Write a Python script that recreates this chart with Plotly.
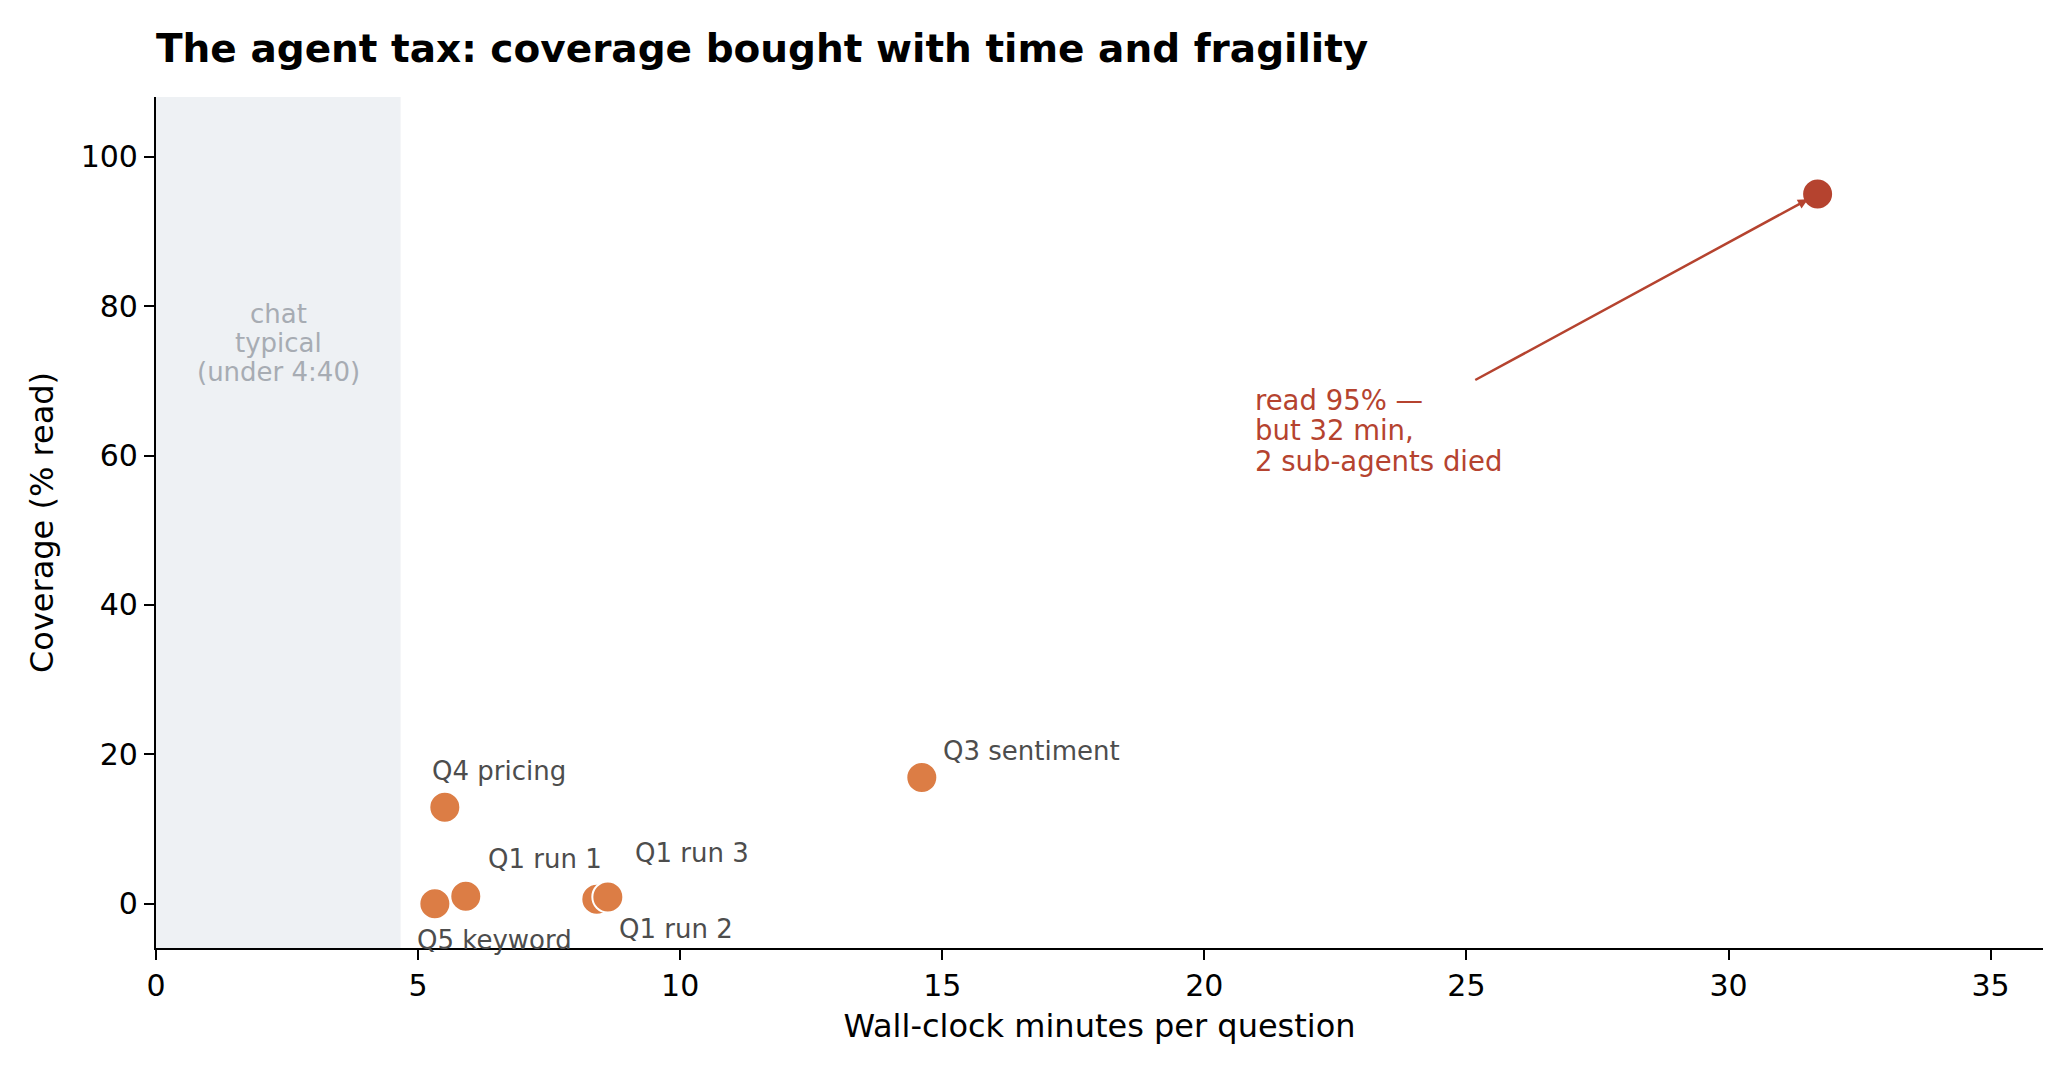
import plotly.graph_objects as go

# runs: wall-clock minutes vs coverage (% read)
labels = ["Q5 keyword", "Q1 run 1", "Q4 pricing", "Q1 run 2", "Q1 run 3", "Q3 sentiment"]
minutes = [5.32, 5.91, 5.51, 8.41, 8.62, 14.61]
coverage = [0.0, 1.0, 12.9, 0.6, 0.9, 16.9]

outlier_minutes = [31.7]
outlier_coverage = [95.0]
outlier_lines = ["read 95% —", "but 32 min,", "2 sub-agents died"]

chat_limit = 4 + 40 / 60  # 4:40
chat_lines = ["chat", "typical", "(under 4:40)"]

x_ticks = [0, 5, 10, 15, 20, 25, 30, 35]
y_ticks = [0, 20, 40, 60, 80, 100]

ORANGE = "#DC7D45"
RED = "#B5432F"
FONT = "DejaVu Sans"

# label offsets from marker centre, screen px (dx right, dy down)
offsets = {
    "Q5 keyword": (-20, 36),
    "Q1 run 1": (20, -37),
    "Q4 pricing": (-15, -36),
    "Q1 run 2": (20, 30),
    "Q1 run 3": (25, -44),
    "Q3 sentiment": (19, -26),
}

# page body has an 8px margin, so the figure is a bit smaller than the window
W, H = 2064, 1066

fig = go.Figure()

fig.add_shape(type="rect", xref="x", yref="paper", x0=0, x1=chat_limit, y0=0, y1=1,
              fillcolor="#EEF1F4", line_width=0, layer="below")

fig.add_trace(go.Scatter(
    x=minutes, y=coverage, mode="markers",
    marker=dict(size=31, color=ORANGE, line=dict(color="white", width=2)),
    hovertext=labels, showlegend=False))

fig.add_trace(go.Scatter(
    x=outlier_minutes, y=outlier_coverage, mode="markers",
    marker=dict(size=31, color=RED, line=dict(color="white", width=2)),
    showlegend=False))

for name, mx, my in zip(labels, minutes, coverage):
    dx, dy = offsets[name]
    fig.add_annotation(x=mx, y=my, text=name, showarrow=False,
                       xanchor="left", yanchor="middle", xshift=dx, yshift=-dy,
                       font=dict(family=FONT, size=26, color="#4D4D4D"))

# chat-typical band label
for i, line in enumerate(chat_lines):
    fig.add_annotation(x=chat_limit / 2, y=75, text=line, showarrow=False,
                       xanchor="center", yanchor="middle", yshift=(1 - i) * 29,
                       font=dict(family=FONT, size=26, color="#A7ACB3"))

# outlier callout
fig.add_annotation(x=outlier_minutes[0], y=outlier_coverage[0], ax=25.14, ay=70,
                   xref="x", yref="y", axref="x", ayref="y", text="",
                   showarrow=True, arrowhead=2, arrowsize=0.8, arrowwidth=2.5,
                   arrowcolor=RED, standoff=11)
for i, line in enumerate(outlier_lines):
    fig.add_annotation(x=21.0, y=63.4, text=line, showarrow=False,
                       xanchor="left", yanchor="middle", xshift=-4, yshift=(1 - i) * 30.5,
                       font=dict(family=FONT, size=27.5, color=RED))

fig.update_layout(
    width=W, height=H,
    margin=dict(l=147.5, r=29.3, t=88.7, b=126.3),
    paper_bgcolor="white", plot_bgcolor="white",
    font=dict(family=FONT, size=30, color="black"),
    title=dict(text="<b>The agent tax: coverage bought with time and fragility</b>",
               x=148 / W, xref="container", xanchor="left",
               y=1 - 40 / H, yref="container", yanchor="middle",
               font=dict(family=FONT, size=39, color="black")),
)

fig.update_xaxes(range=[0, 36], tickvals=x_ticks, showgrid=False, zeroline=False,
                 showline=True, linecolor="black", linewidth=2.2,
                 ticks="outside", ticklen=10, tickwidth=2, tickcolor="black",
                 tickfont=dict(family=FONT, size=30, color="black"),
                 title=dict(text="Wall-clock minutes per question", standoff=13,
                            font=dict(family=FONT, size=32, color="black")))
fig.update_yaxes(range=[-5.93, 108], tickvals=y_ticks, showgrid=False, zeroline=False,
                 showline=True, linecolor="black", linewidth=2.2,
                 ticks="outside", ticklen=10, tickwidth=2, tickcolor="black",
                 tickfont=dict(family=FONT, size=30, color="black"),
                 title=dict(text="Coverage (% read)", standoff=17,
                            font=dict(family=FONT, size=32, color="black")))

fig.write_html("out.html")
